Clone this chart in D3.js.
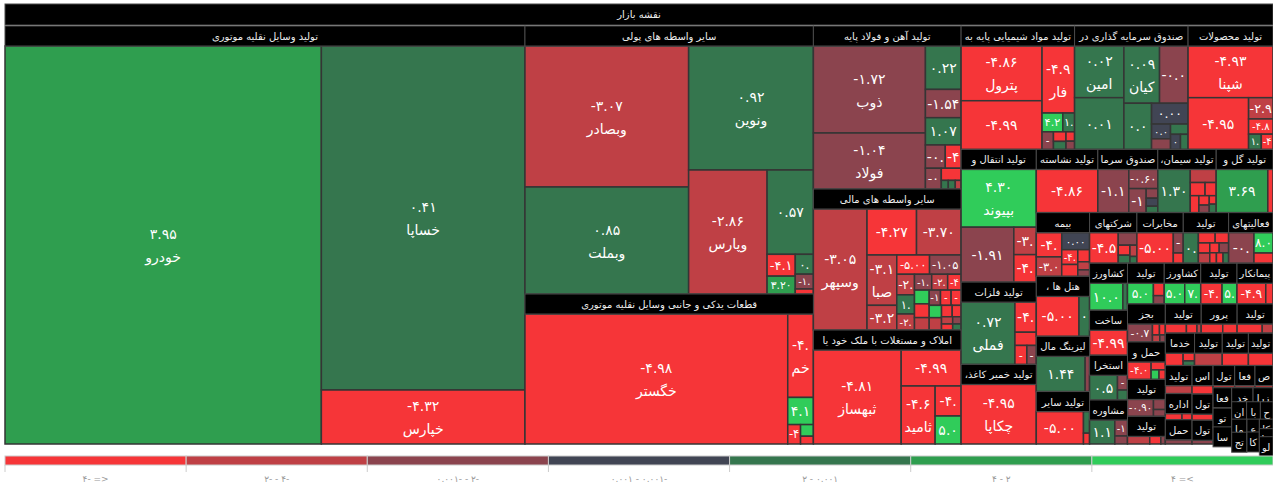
<!DOCTYPE html>
<html>
<head>
<meta charset="utf-8">
<script src="https://cdn.jsdelivr.net/npm/d3@7"></script>
<style>
body { margin: 0; background: #fff; }
text { font-family: "DejaVu Sans", sans-serif; }
</style>
</head>
<body>
<div id="chart"></div>
<script>
const title = "نقشه بازار";

const sectors = [
	"تولید وسایل نقلیه موتوری", "سایر واسطه های پولی", "قطعات یدکی و جانبی وسایل نقلیه موتوری",
	"تولید آهن و فولاد پایه", "سایر واسطه های مالی", "املاک و مستغلات با ملک خود یا",
	"تولید مواد شیمیایی پایه به جز", "صندوق سرمایه گذاری در اوراق", "تولید محصولات",
	"تولید انتقال و", "تولید فلزات", "،تولید خمیر کاغذ", "تولید نشاسته و", "صندوق سرمایه",
	"،تولید سیمان", "تولید گل و", "بیمه", "، هتل ها", "لیزینگ مالی", "تولید سایر",
	"شرکتهای", "مخابرات", "تولید", "فعالیتهای", "کشاورزی", "ساخت", "استخراج", "مشاوره",
	"تولید", "کشاورز", "تولید", "پیمانکار", "بجز", "حمل و", "تولید", "تولید", "تولید",
	"پرور", "تولید", "خدمات", "تولید", "تولید", "تولید", "تولید", "اداره", "حمل", "استخراج",
	"تولید", "تولید", "تولید", "فعالیت", "صنایع", "فعالیت", "تولید", "ساخت", "خدمات",
	"زراعت", "انتشار", "بانک", "حمل", "ماشین", "تجارت", "عمده", "کانی", "کاشی", "چاپ", "لوازم"
];

const sectorSizes = [
	217778, 77452, 43350, 24124, 20868, 16872, 14030, 14030, 10500,
	10000, 6200, 6000, 3900, 3800, 3700, 3600, 3400, 3200, 2950, 2800,
	2400, 2350, 2300, 2250, 1786, 1710, 1700, 1672, 1500, 1490, 1480, 1470,
	1440, 1420, 1400, 1050, 1050, 1050, 1050, 950, 900, 850, 800, 750, 700,
	650, 600, 550, 500, 480, 450, 400, 380, 350, 320, 300, 280, 260, 240,
	220, 200, 180, 160, 150, 130, 110, 100
];

// [sector, symbol, weight, change %]
const stocks = [
	[0, "خودرو", 126166, 3.95], [0, "خساپا", 70176, 0.41], [0, "خپارس", 11016, -4.32],
	[1, "وبصادر", 23124, -3.07], [1, "وبملت", 17548, 0.85], [1, "ونوین", 15500, 0.92], [1, "وپارس", 9750, -2.86],
	[1, "", 3910, 0.57], [1, "وخاور", 616, -4.1], [1, "وسینا", 504, 3.2], [1, "وکار", 360, 0.3], [1, "وگردش", 270, -1.2], [1, "وآیند", 90, -4.5],
	[2, "خگستر", 34320, -4.98], [2, "خمحور", 2150, -4.05], [2, "خریخت", 700, 4.1], [2, "خزر", 250, -4.5], [2, "خکار", 150, 4.5], [2, "خموتور", 100, -4.2],
	[3, "ذوب", 9744, -1.72], [3, "فولاد", 6272, -1.04], [3, "فخوز", 1548, 0.22], [3, "فاسمین", 1008, -1.54], [3, "فایرا", 972, 1.07],
	[3, "هرمز", 462, -0.3], [3, "فجر", 330, -0.8], [3, "فسپا", 368, -4.5], [3, "فرود", 240, -4.2], [3, "فلامی", 60, 0.5], [3, "فگستر", 60, 0.4], [3, "فزر", 50, -3],
	[4, "وسپهر", 6413, -3.05], [4, "ومعادن", 2250, -4.27], [4, "وتوکا", 2025, -3.70], [4, "صبا", 1479, -3.10], [4, "وامید", 725, -3.2],
	[4, "ولساپا", 624, -5.0], [4, "وصنعت", 600, -1.05], [4, "ولصنم", 360, -2.5], [4, "وسبحان", 280, -2.1], [4, "ومهان", 180, -3],
	[4, "وسکاب", 210, -4.5], [4, "وبرق", 250, -2.5], [4, "ولکار", 336, 1.2], [4, "وآفری", 200, 4.2], [4, "وکغدیر", 170, -1.5],
	[4, "وملت", 150, -4.5], [4, "وایران", 160, -4.4], [4, "وسنا", 150, 4.1], [4, "وگستر", 270, -1.3], [4, "ولبهمن", 200, -4.6],
	[4, "وتوس", 150, -3.5], [4, "ولملت", 120, -4.1], [4, "واعتبار", 100, -4.8], [4, "وثوق", 80, -2.2], [4, "واتی", 66, -4.3],
	[4, "ولغدر", 60, -1.1], [4, "وپویا", 50, 0.8],
	[5, "ثبهساز", 8272, -4.81], [5, "", 2160, -4.99], [5, "ثامید", 1972, -4.6], [5, "ثنوسا", 780, -4.05], [5, "ثاصفا", 728, 5.0],
	[6, "پترول", 4428, -4.86], [6, "", 3936, -4.99], [6, "فارس", 2178, -4.99], [6, "شفن", 391, 4.2], [6, "شاراک", 200, -1.2],
	[6, "شخارک", 220, 1.5], [6, "شکلر", 120, -4.5], [6, "شصدف", 100, 0.6], [6, "شلعاب", 80, -4.2], [6, "شیراز", 70, -1.0],
	[7, "امین", 2550, 0.02], [7, "", 2550, 0.01], [7, "کیان", 2040, 0.09], [7, "اعتم", 1275, 0.06], [7, "", 1632, -0.04],
	[7, "", 759, 0], [7, "", 280, 0], [7, "", 200, -0.3], [7, "", 180, 0.2], [7, "", 150, 0], [7, "", 114, 0.1],
	[8, "شپنا", 4080, -4.93], [8, "", 2907, -4.95], [8, "", 483, -2.9], [8, "", 345, -4.8], [8, "", 180, 1.1], [8, "", 165, -4.3],
	[9, "بپیوند", 3953, 4.30], [9, "", 2632, -1.91], [9, "", 560, -3.1], [9, "", 560, -4.1],
	[10, "فملی", 2976, 0.72], [10, "", 570, -4.1], [10, "", 250, -4.2], [10, "", 200, -4.6], [10, "", 158, -1.5],
	[11, "چکاپا", 3953, -4.95],
	[12, "", 3060, -4.86],
	[13, "", 1440, -1.14], [13, "", 600, -0.6], [13, "", 450, -1.8], [13, "", 120, -0.5], [13, "", 100, 0], [13, "", 80, 0.3],
	[14, "", 1440, 1.30], [14, "", 350, -2.5], [14, "", 200, -4.5], [14, "", 150, -4.3], [14, "", 150, -4.1],
	[14, "", 100, -4.4], [14, "", 80, -1.2], [14, "", 60, -4.6], [14, "", 60, 0.9],
	[15, "", 2250, 3.69], [15, "", 225, -4.4],
	[16, "", 650, -4.05], [16, "", 500, 0], [16, "", 520, -3.05], [16, "", 250, -4.8], [16, "", 200, -4.3], [16, "", 150, -4.5], [16, "", 100, -3.2], [16, "", 80, -1.1],
	[17, "", 1700, -5], [17, "", 420, 0.5],
	[18, "", 1560, 1.44], [18, "", 140, -1.0],
	[19, "", 1400, -5], [19, "", 120, 0.5], [19, "", 60, -4.2],
	[20, "", 1125, -4.52], [20, "", 300, -1.5], [20, "", 150, -4.4], [20, "", 120, 0.6], [20, "", 100, -2.5], [20, "", 60, 1.2],
	[21, "", 1100, -5], [21, "", 200, -1.2], [21, "", 100, -4.1],
	[22, "", 400, 0.3], [22, "", 150, -4.2], [22, "", 120, -4.5], [22, "", 100, -4.1], [22, "", 100, -3.1],
	[22, "", 80, -4.4], [22, "", 80, -1.5], [22, "", 60, -4.7], [22, "", 60, -4.9], [22, "", 50, 0.4],
	[23, "", 600, -0.3], [23, "", 300, 8], [23, "", 150, -4.4],
	[24, "", 800, 10], [24, "", 110, 0.8],
	[25, "", 950, -4.99],
	[26, "", 700, 0.52], [26, "", 150, -1.2], [26, "", 100, 1.3],
	[27, "", 600, 1.1], [27, "", 200, -1.5], [27, "", 100, -1.1],
	[28, "", 600, 5], [28, "", 150, -4.4], [28, "", 100, -1.3],
	[29, "", 450, 5], [29, "", 350, 7],
	[30, "", 500, -4.2], [30, "", 350, 5],
	[31, "", 600, -4.9], [31, "", 150, -4.2],
	[32, "", 700, -0.7], [32, "", 120, -4.3], [32, "", 100, -4.6], [32, "", 80, -2.1], [32, "", 60, -1.3],
	[33, "", 550, -4.02], [33, "", 150, -4.3], [33, "", 100, 4.5], [33, "", 80, -4.1],
	[34, "", 550, -0.9], [34, "", 150, -1.1], [34, "", 100, -1.6],
	[35, "", 300, -3.5], [35, "", 150, -4.2], [35, "", 60, -1.0],
	[36, "", 300, -4.9], [36, "", 150, -4.1], [36, "", 60, -3.2],
	[37, "", 300, -4.5], [37, "", 200, -4.3],
	[38, "", 350, -4.8], [38, "", 150, -2.2],
	[39, "", 250, -4.3], [39, "", 100, -4.1], [39, "", 60, 1.2],
	[40, "", 400, -3.2], [41, "", 200, -4.1], [42, "", 200, -4.5], [43, "", 180, -2.4],
	[44, "", 100, -4.2], [44, "", 60, -4.4], [45, "", 100, -1.2], [46, "", 100, -4.1],
	[47, "", 100, -4.3], [48, "", 100, -1.4], [49, "", 100, -4.6], [50, "", 100, -2.3], [51, "", 100, -4.4],
	[52, "", 100, 0.7], [53, "", 100, -4.5], [54, "", 100, -3.3], [55, "", 100, -4.1], [56, "", 100, -1.6],
	[57, "", 100, -4.7], [58, "", 100, -4.2], [59, "", 100, -0.8], [60, "", 100, -4.9], [61, "", 100, -2.6],
	[62, "", 100, -4.3], [63, "", 100, 1.4], [64, "", 100, -4.5], [65, "", 100, -3.8], [66, "", 100, -4.4]
];

const legendBreaks = [-4, -2, -0.001, 0.001, 2, 4];
const legendColors = ["#f63538", "#bf4045", "#8b444e", "#414554", "#35764e", "#2f9e4f", "#30cc5a"];
const legendLabels = ["۴- =>", "۲- - ۴-", "۰.۰۰۱- - ۲-", "۰.۰۰۱ - ۰.۰۰۱-", "۲ - ۰.۰۰۱", "۴ - ۲", "۴ =<"];

const width = 1273, height = 487;
const color = d3.scaleThreshold(legendBreaks, legendColors);
const persian = s => s.replace(/\d/g, d => "۰۱۲۳۴۵۶۷۸۹"[d]);
const fmt = v => persian(v.toFixed(2));

function fit(sel, text, maxW) {
	let t = text;
	sel.text(t);
	while (t.length && sel.node().getComputedTextLength() > maxW) {
		t = t.slice(0, -1);
		sel.text(t);
	}
}

const svg = d3.select("#chart").append("svg")
	.attr("width", width)
	.attr("height", height);

const root = d3.hierarchy({
	name: title,
	children: sectors.map((name, i) => {
		const rows = stocks.filter(s => s[0] === i);
		const total = d3.sum(rows, r => r[2]);
		return {
			name,
			children: rows.map(r => ({ name: r[1], value: sectorSizes[i] * r[2] / total, change: r[3] }))
		};
	})
})
	.sum(d => d.value || 0)
	.sort((a, b) => b.value - a.value);

d3.treemap()
	.size([1268, 440])
	.paddingTop(d => d.depth === 0 ? 22 : 20)
	.tile(d3.treemapSquarify.ratio(1))(root);

const map = svg.append("g").attr("transform", "translate(5,4)");

// tiles
const cell = map.append("g")
	.selectAll("g")
	.data(root.leaves())
	.join("g")
	.attr("transform", d => `translate(${d.x0},${d.y0})`);

cell.append("rect")
	.attr("width", d => Math.max(0, d.x1 - d.x0))
	.attr("height", d => Math.max(0, d.y1 - d.y0))
	.attr("fill", d => color(d.data.change))
	.attr("stroke", "#353535")
	.attr("stroke-width", 1.5);

cell.each(function (d) {
	const w = d.x1 - d.x0, h = d.y1 - d.y0;
	if (h < 14 || w < 9) return;
	const fs = Math.min(14, Math.max(10, h * 0.6));
	const showName = d.data.name && h >= 50;
	const g = d3.select(this);
	const num = g.append("text")
		.attr("x", w / 2)
		.attr("y", showName ? h / 2 - 6 : h / 2 + fs * 0.36)
		.attr("text-anchor", "middle")
		.attr("font-size", fs)
		.attr("fill", "#fff");
	fit(num, fmt(d.data.change), w - 2);
	if (showName) {
		const nm = g.append("text")
			.attr("x", w / 2)
			.attr("y", h / 2 + 17)
			.attr("text-anchor", "middle")
			.attr("font-size", fs)
			.attr("fill", "#fff");
		fit(nm, d.data.name, w - 2);
	}
});

// sector headers
const head = map.append("g")
	.selectAll("g")
	.data(root.children)
	.join("g")
	.attr("transform", d => `translate(${d.x0},${d.y0})`);

head.append("rect")
	.attr("width", d => d.x1 - d.x0)
	.attr("height", 20)
	.attr("fill", "#000")
	.attr("stroke", "#4a4a4a")
	.attr("stroke-width", 1);

head.append("text")
	.attr("x", d => (d.x1 - d.x0) / 2)
	.attr("y", 14)
	.attr("text-anchor", "middle")
	.attr("font-size", 10)
	.attr("fill", "#eee")
	.each(function (d) { fit(d3.select(this), d.data.name, d.x1 - d.x0 - 4); });

// title bar
map.append("rect")
	.attr("width", 1268)
	.attr("height", 21)
	.attr("fill", "#000")
	.attr("stroke", "#4a4a4a");

map.append("text")
	.attr("x", 634)
	.attr("y", 14)
	.attr("text-anchor", "middle")
	.attr("font-size", 10)
	.attr("fill", "#eee")
	.text(title);

// legend
const lx = d3.scaleBand(legendLabels, [5, 1273]);
const legend = svg.append("g");

legend.selectAll("rect")
	.data(legendLabels)
	.join("rect")
	.attr("x", d => lx(d))
	.attr("y", 456)
	.attr("width", lx.bandwidth())
	.attr("height", 9)
	.attr("fill", (d, i) => legendColors[i])
	.attr("stroke", "#ccc");

legend.selectAll("line")
	.data(legendLabels)
	.join("line")
	.attr("x1", d => lx(d))
	.attr("x2", d => lx(d))
	.attr("y1", 465)
	.attr("y2", 472)
	.attr("stroke", "#ccc");

legend.selectAll("text")
	.data(legendLabels)
	.join("text")
	.attr("x", d => lx(d) + lx.bandwidth() / 2)
	.attr("y", 482)
	.attr("text-anchor", "middle")
	.attr("font-size", 9)
	.attr("fill", "#999")
	.text(d => d);
</script>
</body>
</html>
